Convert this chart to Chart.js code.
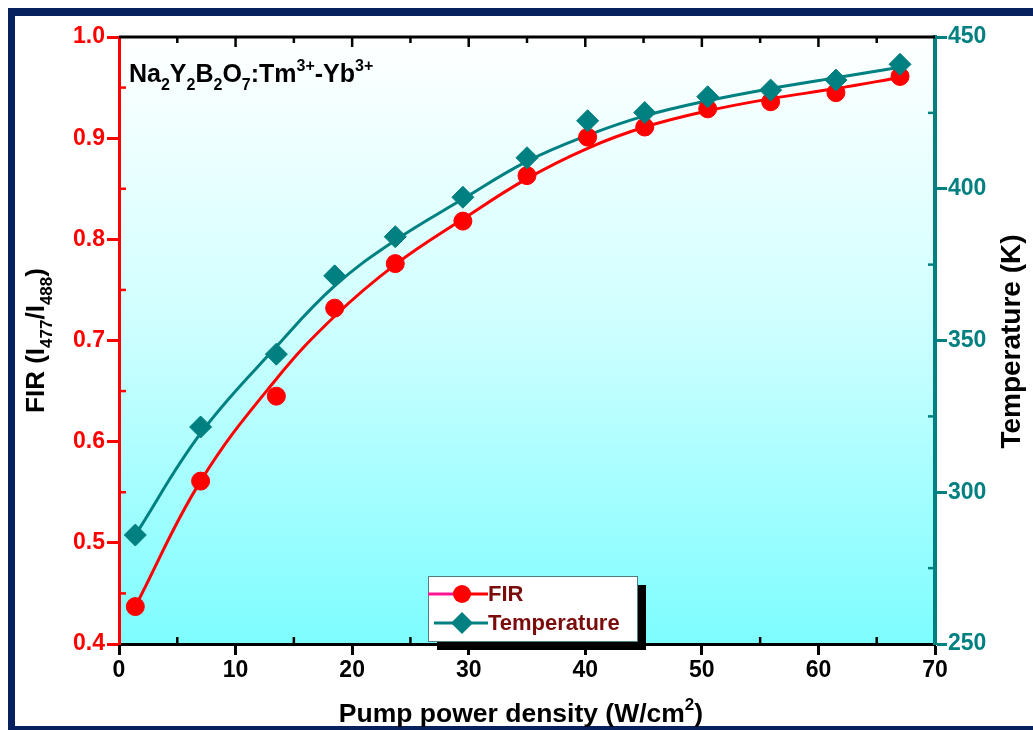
<!DOCTYPE html>
<html>
<head>
<meta charset="utf-8">
<script src="https://cdn.jsdelivr.net/npm/chart.js@4.4.0/dist/chart.umd.min.js"></script>
<style>
  html, body { margin: 0; padding: 0; background: #fff; overflow: hidden; }
  #frame { position: absolute; left: 8px; top: 8px; width: 1100px; height: 726px; box-sizing: border-box;
           border-left: 7px solid #06215e; border-top: 8px solid #06215e; border-bottom: 8px solid #06215e; }
  #wrap { position: absolute; left: 0; top: 0; width: 1033px; height: 730px; }
</style>
</head>
<body>
<div id="frame"></div>
<div id="wrap"><canvas id="c"></canvas></div>
<script>
// measured points
const powerDensity = [1.4, 7.0, 13.5, 18.5, 23.7, 29.5, 35.0, 40.2, 45.1, 50.5, 55.9, 61.5, 67.0];
const firValues    = [0.437, 0.561, 0.645, 0.732, 0.776, 0.818, 0.863, 0.901, 0.911, 0.929, 0.936, 0.945, 0.961];
const tempValues   = [285.9, 321.5, 345.5, 371.3, 384.2, 397.2, 410.2, 422.4, 425.1, 430.3, 432.5, 435.8, 441.0];
// fitted curves at the same x positions
const firFit  = [0.437, 0.561, 0.662, 0.724, 0.775, 0.82, 0.860, 0.890, 0.911, 0.927, 0.939, 0.949, 0.960];
const tempFit = [285.9, 319.4, 348.0, 368.0, 383.0, 396.6, 409.0, 417.6, 424.0, 429.0, 433.0, 436.6, 440.0];

const xTicks = { min: 0, max: 70, step: 10 };
const firTicks = { min: 0.4, max: 1.0, step: 0.1 };
const tempTicks = { min: 250, max: 450, step: 50 };

const FONT = '"Liberation Sans", Arial, sans-serif';
const RED = '#ff0000';
const TEAL = '#008080';
const MAROON = '#7b0c0c';

const pts = vals => vals.map((v, i) => ({ x: powerDensity[i], y: v }));

// draws text with sub/superscripts, parts = [text, mode]
function richText(ctx, parts, x, y, size, align) {
    const small = Math.round(size * 0.64);
    const fontFor = m => `bold ${m ? small : size}px ${FONT}`;
    let w = 0;
    parts.forEach(([t, m]) => { ctx.font = fontFor(m); w += ctx.measureText(t).width; });
    let cx = align === 'center' ? x - w / 2 : x;
    ctx.textAlign = 'left';
    ctx.textBaseline = 'alphabetic';
    parts.forEach(([t, m]) => {
        ctx.font = fontFor(m);
        const dy = m === 'sub' ? size * 0.3 : m === 'sup' ? -size * 0.45 : 0;
        ctx.fillText(t, cx, y + dy);
        cx += ctx.measureText(t).width;
    });
}

const decor = {
    id: 'decor',
    beforeDraw(chart) {
        const { ctx, chartArea: a } = chart;
        const g = ctx.createLinearGradient(0, a.top, 0, a.bottom);
        g.addColorStop(0, '#ffffff');
        g.addColorStop(0.45, '#d2ffff');
        g.addColorStop(1, '#7dfdff');
        ctx.save();
        ctx.fillStyle = g;
        ctx.fillRect(a.left, a.top, a.right - a.left, a.bottom - a.top);
        ctx.restore();
    },
    afterDraw(chart) {
        const { ctx, chartArea: a, scales } = chart;
        const sx = scales.x, sy = scales.y, sy1 = scales.y1;
        ctx.save();
        // top frame line
        ctx.strokeStyle = '#000';
        ctx.lineWidth = 3;
        ctx.beginPath();
        ctx.moveTo(a.left, a.top);
        ctx.lineTo(a.right, a.top);
        ctx.stroke();

        // inward ticks: top axis (all), minor on other axes
        ctx.lineWidth = 2.5;
        for (let v = xTicks.min + 5; v < xTicks.max; v += 5) {
            const px = sx.getPixelForValue(v);
            const major = v % 10 === 0;
            ctx.strokeStyle = '#000';
            ctx.beginPath();
            ctx.moveTo(px, a.top);
            ctx.lineTo(px, a.top + (major ? 10 : 6));
            ctx.stroke();
            if (!major) {
                ctx.beginPath();
                ctx.moveTo(px, a.bottom);
                ctx.lineTo(px, a.bottom - 7);
                ctx.stroke();
            }
        }
        ctx.strokeStyle = RED;
        for (let v = firTicks.min + 0.05; v < firTicks.max; v += 0.1) {
            const py = sy.getPixelForValue(v);
            ctx.beginPath();
            ctx.moveTo(a.left, py);
            ctx.lineTo(a.left + 7, py);
            ctx.stroke();
        }
        ctx.strokeStyle = TEAL;
        for (let v = tempTicks.min + 25; v < tempTicks.max; v += 50) {
            const py = sy1.getPixelForValue(v);
            ctx.beginPath();
            ctx.moveTo(a.right, py);
            ctx.lineTo(a.right - 7, py);
            ctx.stroke();
        }

        // compound label
        ctx.fillStyle = '#000';
        richText(ctx, [['Na', ''], ['2', 'sub'], ['Y', ''], ['2', 'sub'], ['B', ''], ['2', 'sub'], ['O', ''], ['7', 'sub'],
                       [':Tm', ''], ['3+', 'sup'], ['-Yb', ''], ['3+', 'sup']], a.left + 10, 82, 25, 'left');

        // axis titles
        richText(ctx, [['Pump power density (W/cm', ''], ['2', 'sup'], [')', '']], (a.left + a.right) / 2 - 6, 722, 26.5, 'center');

        ctx.save();
        ctx.translate(44, (a.top + a.bottom) / 2);
        ctx.rotate(-Math.PI / 2);
        richText(ctx, [['FIR (I', ''], ['477', 'sub'], ['/I', ''], ['488', 'sub'], [')', '']], 0, 0, 26, 'center');
        ctx.restore();

        ctx.save();
        ctx.translate(1020, (a.top + a.bottom) / 2 + 1);
        ctx.rotate(-Math.PI / 2);
        richText(ctx, [['Temperature (K)', '']], 0, 0, 28, 'center');
        ctx.restore();

        // legend box with shadow
        const lx = 428, ly = 576, lw = 209, lh = 65;
        ctx.fillStyle = '#000';
        ctx.fillRect(lx + 9, ly + 9, lw, lh);
        ctx.fillStyle = '#fff';
        ctx.fillRect(lx, ly, lw, lh);
        ctx.strokeStyle = '#4f7f7f';
        ctx.lineWidth = 1;
        ctx.strokeRect(lx + 0.5, ly + 0.5, lw, lh);

        ctx.lineWidth = 3;
        // FIR entry
        ctx.strokeStyle = '#ff1493';
        ctx.beginPath(); ctx.moveTo(lx, 594); ctx.lineTo(lx + 26, 594); ctx.stroke();
        ctx.strokeStyle = RED;
        ctx.beginPath(); ctx.moveTo(lx + 26, 594); ctx.lineTo(lx + 60, 594); ctx.stroke();
        ctx.fillStyle = RED;
        ctx.beginPath(); ctx.arc(lx + 34, 594, 9, 0, Math.PI * 2); ctx.fill();
        // Temperature entry
        ctx.strokeStyle = TEAL;
        ctx.beginPath(); ctx.moveTo(lx + 6, 623); ctx.lineTo(lx + 60, 623); ctx.stroke();
        ctx.fillStyle = TEAL;
        ctx.beginPath();
        ctx.moveTo(lx + 34, 623 - 11); ctx.lineTo(lx + 45, 623); ctx.lineTo(lx + 34, 623 + 11); ctx.lineTo(lx + 23, 623);
        ctx.closePath(); ctx.fill();

        ctx.fillStyle = MAROON;
        ctx.font = `bold 22px ${FONT}`;
        ctx.textAlign = 'left';
        ctx.textBaseline = 'middle';
        ctx.fillText('FIR', lx + 60, 595);
        ctx.fillText('Temperature', lx + 60, 624);
        ctx.restore();
    }
};

new Chart(document.getElementById('c'), {
    type: 'line',
    data: {
        datasets: [
            {
                label: 'Temperature',
                data: pts(tempValues),
                yAxisID: 'y1',
                showLine: false,
                pointStyle: 'rectRot',
                pointRadius: 11,
                pointBackgroundColor: TEAL,
                pointBorderColor: TEAL,
                pointBorderWidth: 1
            },
            {
                label: 'FIR',
                data: pts(firValues),
                yAxisID: 'y',
                showLine: false,
                pointStyle: 'circle',
                pointRadius: 9,
                pointBackgroundColor: RED,
                pointBorderColor: RED,
                pointBorderWidth: 1
            },
            {
                label: 'Temperature fit',
                data: pts(tempFit),
                yAxisID: 'y1',
                borderColor: TEAL,
                borderWidth: 3,
                pointRadius: 0,
                tension: 0.4
            },
            {
                label: 'FIR fit',
                data: pts(firFit),
                yAxisID: 'y',
                borderColor: RED,
                borderWidth: 3,
                pointRadius: 0,
                tension: 0.4
            }
        ]
    },
    options: {
        responsive: true,
        maintainAspectRatio: false,
        animation: false,
        layout: { padding: { top: 37, left: 0, right: 0, bottom: 0 } },
        plugins: { legend: { display: false }, tooltip: { enabled: false } },
        scales: {
            x: {
                type: 'linear', position: 'bottom', min: xTicks.min, max: xTicks.max,
                ticks: { stepSize: xTicks.step, color: '#000', padding: 2, font: { family: FONT, size: 23, weight: 'bold' } },
                grid: { drawOnChartArea: false, tickLength: 11, tickWidth: 3, tickColor: '#000' },
                border: { color: '#000', width: 3 },
                afterFit: s => { s.height = 86; }
            },
            y: {
                type: 'linear', position: 'left', min: firTicks.min, max: firTicks.max,
                ticks: { stepSize: firTicks.step, color: RED, padding: 2, font: { family: FONT, size: 23, weight: 'bold' },
                         callback: v => v.toFixed(1) },
                grid: { drawOnChartArea: false, tickLength: 12, tickWidth: 3, tickColor: RED },
                border: { color: RED, width: 3 },
                afterFit: s => { s.width = 119; }
            },
            y1: {
                type: 'linear', position: 'right', min: tempTicks.min, max: tempTicks.max,
                ticks: { stepSize: tempTicks.step, color: TEAL, padding: 1, font: { family: FONT, size: 23, weight: 'bold' } },
                grid: { drawOnChartArea: false, tickLength: 12, tickWidth: 3, tickColor: TEAL },
                border: { color: TEAL, width: 4 },
                afterFit: s => { s.width = 98; }
            }
        }
    },
    plugins: [decor]
});
</script>
</body>
</html>
